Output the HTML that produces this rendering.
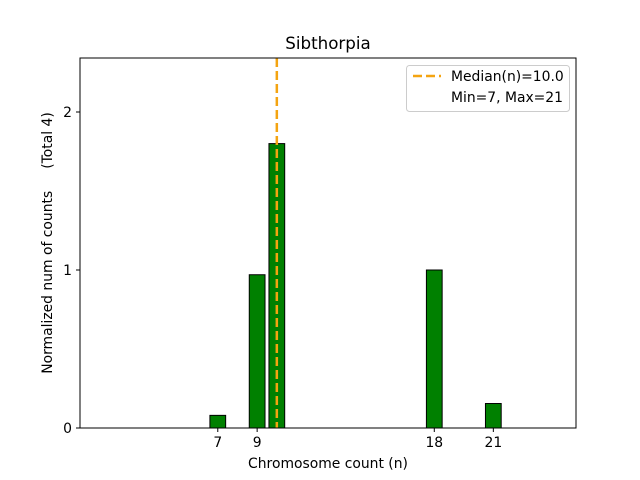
<!DOCTYPE html>
<html><head><meta charset="utf-8"><style>body{margin:0;background:#fff}svg{display:block;font-family:"DejaVu Sans","Liberation Sans",sans-serif}</style></head>
<body>
<svg id="chart" width="640" height="480">
<text x="328" y="49" font-size="16.7" text-anchor="middle">Sibthorpia</text>
<g id="bars"></g>
<g id="xticks"></g>
<g id="yticks"></g>
<line id="median" stroke="#f4a411" stroke-width="2.5" stroke-dasharray="9,4"/>
<rect x="80" y="58" width="496" height="370" fill="none" stroke="#000" stroke-width="1"/>
<text x="328" y="468" font-size="13.9" text-anchor="middle">Chromosome count (n)</text>
<text transform="translate(52,243) rotate(-90)" font-size="13.9" text-anchor="middle" xml:space="preserve">Normalized num of counts     (Total 4)</text>
<g>
<rect x="406.5" y="65.5" width="163" height="46" rx="3" fill="#fff" stroke="#ccc"/>
<line x1="413" y1="76" x2="441" y2="76" stroke="#f4a411" stroke-width="2.5" stroke-dasharray="9,4"/>
<text x="451" y="81" font-size="13.9">Median(n)=10.0</text>
<text x="451" y="102" font-size="13.9">Min=7, Max=21</text>
</g>
</svg>
<script>
const categories=[7,9,10,18,21];
const values=[0.08,0.97,1.80,1.0,0.155];
const xTicks=[7,9,18,21];
const yTicks=[0,1,2];
const medianValue=10.0;
const NS="http://www.w3.org/2000/svg";
const x=v=>80+(v-0.0)*(496/25.2);
const y=v=>428-v*158;
function mk(t,a,p){const e=document.createElementNS(NS,t);for(const k in a)e.setAttribute(k,a[k]);p.appendChild(e);return e;}
const bars=document.getElementById('bars');
categories.forEach((c,i)=>{
 const w=0.8*496/25.2;
 const r=mk('rect',{x:x(c)-w/2,y:y(values[i]),width:w,height:y(0)-y(values[i]),fill:'#008000',stroke:'#000','stroke-width':1},bars);
 
 
});
const xt=document.getElementById('xticks');
xTicks.forEach(t=>{
 const l=mk('line',{x1:x(t),x2:x(t),y1:428,y2:432,stroke:'#000'},xt);
 
 
 const s=mk('text',{x:x(t),y:447,'font-size':13.9,'text-anchor':'middle'},xt);s.textContent=t;
 
 
});
const yt=document.getElementById('yticks');
yTicks.forEach(t=>{
 const l=mk('line',{x1:76,x2:80,y1:y(t),y2:y(t),stroke:'#000'},yt);
 
 
 const s=mk('text',{x:72,y:y(t)+5,'font-size':13.9,'text-anchor':'end'},yt);s.textContent=t;
 
 
});
const m=document.getElementById('median');
m.setAttribute('x1',x(medianValue));m.setAttribute('x2',x(medianValue));
m.setAttribute('y1',58);m.setAttribute('y2',428);
</script>
</body></html>
